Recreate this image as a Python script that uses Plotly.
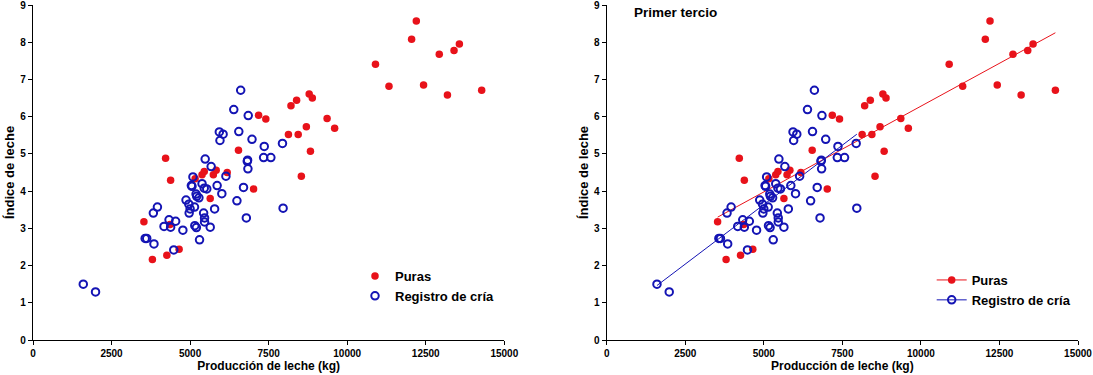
import numpy as np
import plotly.graph_objects as go
from plotly.subplots import make_subplots

# ---------------- data ----------------
series_names = ["Puras", "Registro de cría"]

puras_x = [3530, 3800, 4220, 4260, 4380, 4360, 4650, 5160, 5380, 5450, 5640, 5740,
           5830, 6180, 6540, 7020, 7180, 7410, 8210, 8390, 8790, 8890, 8130, 8440,
           8700, 9360, 9600, 8830, 8540, 10900, 11330, 12050, 12200, 12430, 12930,
           13190, 13400, 13570, 14280]
puras_y = [3.18, 2.16, 4.88, 2.28, 4.29, 3.10, 2.44, 4.33, 4.44, 4.53, 3.80, 4.44,
           4.56, 4.50, 5.10, 4.06, 6.04, 5.94, 6.29, 6.44, 6.61, 6.50, 5.52, 5.52,
           5.73, 5.95, 5.69, 5.07, 4.40, 7.41, 6.82, 8.08, 8.57, 6.85, 7.68, 6.58,
           7.78, 7.95, 6.71]

registro_x = [1600, 1990, 3570, 3620, 3850, 3830, 3960, 4170, 4330, 4380, 4540, 4480,
              4770, 4870, 4960, 4970, 5000, 5140, 5150, 5200, 5300, 5090, 5040, 5060,
              5190, 5210, 5280, 5380, 5450, 5530, 5430, 5460, 5460, 5640, 5480, 5670,
              5780, 5860, 5930, 6050, 5950, 6010, 6140, 6390, 6490, 6550, 6610, 6700,
              6790, 6820, 6830, 6840, 6850, 6970, 7340, 7360, 7570, 7940, 7960]
registro_y = [1.50, 1.29, 2.73, 2.73, 2.58, 3.41, 3.57, 3.05, 3.23, 3.03, 3.19, 2.42,
              2.95, 3.76, 3.65, 3.41, 3.52, 3.57, 3.07, 3.02, 2.69, 4.38, 4.15, 4.13,
              3.92, 3.86, 3.82, 4.20, 4.08, 4.06, 3.41, 3.28, 3.17, 3.03, 4.86, 4.66,
              3.52, 4.15, 5.59, 5.53, 5.36, 3.93, 4.40, 6.19, 3.74, 5.60, 6.71, 4.10,
              3.28, 4.80, 4.83, 4.60, 6.03, 5.39, 4.90, 5.20, 4.90, 5.28, 3.54]

x_ticks = [0, 2500, 5000, 7500, 10000, 12500, 15000]
y_ticks = [0, 1, 2, 3, 4, 5, 6, 7, 8, 9]

x_title = "Producción de leche (kg)"
y_title = "Índice de leche"
panel_label = "Primer tercio"


def linear_fit(xs, ys):
    xs = np.asarray(xs, float)
    ys = np.asarray(ys, float)
    m, b = np.polyfit(xs, ys, 1)
    xe = np.array([xs.min(), xs.max()])
    return xe, m * xe + b


RED = "#E8121A"
BLUE = "#1414B4"
FONT = "Arial, Liberation Sans, sans-serif"

fig = make_subplots(rows=1, cols=2)

red_marker = dict(symbol="circle", size=7.5, color=RED, line=dict(width=0))
blue_marker = dict(symbol="circle-open", size=7.5, color=BLUE, line=dict(width=2, color=BLUE))

# Left panel
fig.add_trace(go.Scatter(x=puras_x, y=puras_y, mode="markers", name=series_names[0],
                         marker=red_marker, legend="legend"), row=1, col=1)
fig.add_trace(go.Scatter(x=registro_x, y=registro_y, mode="markers", name=series_names[1],
                         marker=blue_marker, legend="legend"), row=1, col=1)

# Right panel
rx, ry = linear_fit(puras_x, puras_y)
bx, by = linear_fit(registro_x, registro_y)
fig.add_trace(go.Scatter(x=rx, y=ry, mode="lines", line=dict(color=RED, width=1),
                         showlegend=False), row=1, col=2)
fig.add_trace(go.Scatter(x=bx, y=by, mode="lines", line=dict(color=BLUE, width=1),
                         showlegend=False), row=1, col=2)
fig.add_trace(go.Scatter(x=puras_x, y=puras_y, mode="markers", marker=red_marker,
                         showlegend=False), row=1, col=2)
fig.add_trace(go.Scatter(x=registro_x, y=registro_y, mode="markers", marker=blue_marker,
                         showlegend=False), row=1, col=2)
# legend entries (line + marker) for the right panel
fig.add_trace(go.Scatter(x=[None], y=[None], mode="lines+markers", name=series_names[0],
                         marker=red_marker, line=dict(color=RED, width=1),
                         legend="legend2"), row=1, col=2)
fig.add_trace(go.Scatter(x=[None], y=[None], mode="lines+markers", name=series_names[1],
                         marker=blue_marker, line=dict(color=BLUE, width=1),
                         legend="legend2"), row=1, col=2)

axis_common = dict(showgrid=False, zeroline=False, showline=True, linecolor="black",
                   linewidth=1.3, ticks="outside", ticklen=4, tickwidth=1.3,
                   tickcolor="black", ticklabeloverflow="allow", automargin=False,
                   tickfont=dict(family=FONT, size=10, color="black", weight="bold"))

L, R, T, B = 33, 15, 5, 35
W, H = 1093, 375
pw = W - L - R
ph = H - T - B

for i, (xa, ya) in enumerate([("xaxis", "yaxis"), ("xaxis2", "yaxis2")]):
    dom = [0, (504.3 - L) / pw] if i == 0 else [(606.7 - L) / pw, 1.0]
    fig.update_layout({
        xa: dict(axis_common, range=[0, 15000], tickvals=x_ticks, tickformat="d",
                 domain=dom,
                 title=dict(text=x_title, standoff=3,
                            font=dict(family=FONT, size=12, color="black", weight="bold"))),
        ya: dict(axis_common, range=[0, 9], tickvals=y_ticks, tickformat="d",
                 domain=[0, 1],
                 title=dict(text=y_title, standoff=2,
                            font=dict(family=FONT, size=13, color="black", weight="bold"))),
    })

legend_font = dict(family=FONT, size=13, color="black", weight="bold")
fig.update_layout(
    width=W, height=H,
    margin=dict(l=L, r=R, t=T, b=B, autoexpand=False),
    paper_bgcolor="white", plot_bgcolor="white",
    legend=dict(x=(355 - L) / pw, y=(340 - 261) / ph, xanchor="left", yanchor="top",
                bgcolor="rgba(0,0,0,0)", font=legend_font, tracegroupgap=0),
    legend2=dict(x=(931.7 - L) / pw, y=(340 - 265) / ph, xanchor="left", yanchor="top",
                 bgcolor="rgba(0,0,0,0)", font=legend_font, tracegroupgap=0),
    annotations=[dict(text=panel_label, xref="paper", yref="paper",
                      x=(632 - L) / pw, y=(340 - 12.3) / ph, xanchor="left",
                      yanchor="middle", showarrow=False,
                      font=dict(family=FONT, size=13.5, color="black", weight="bold"))],
)

fig.write_html("out.html",
               config={"displayModeBar": False},
               post_script="document.body.style.margin='0px';"
                           "document.body.style.overflow='hidden';")
